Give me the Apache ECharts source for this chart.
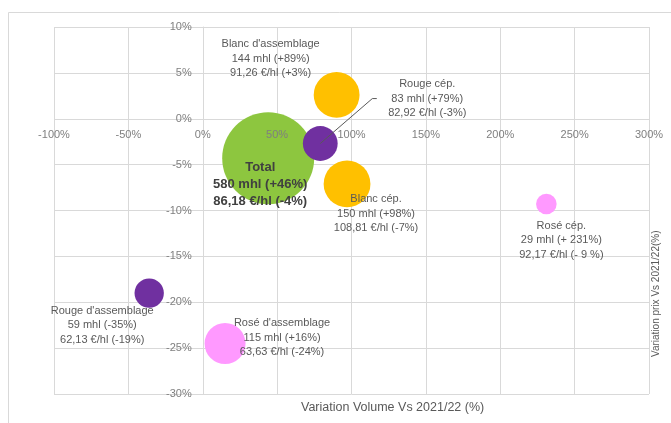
<!DOCTYPE html>
<html>
<head>
<meta charset="utf-8">
<script src="https://cdn.jsdelivr.net/npm/echarts@6/dist/echarts.min.js"></script>
<style>
    html, body { margin: 0; padding: 0; background: #fff; }
    #main { width: 671px; height: 423px; }
</style>
</head>
<body>
<div id="main"></div>
<script>
    // segments
    const names = ['Total', "Blanc d'assemblage", 'Rouge cép.', 'Blanc cép.', 'Rosé cép.', "Rouge d'assemblage", "Rosé d'assemblage"]
    const volumeChange = [44, 90, 79, 97, 231, -36, 15]      // x, %
    const priceChange = [-4.3, 2.6, -2.7, -7.1, -9.3, -19, -24.5]  // y, %
    const volumes = [580, 144, 83, 150, 29, 59, 115]          // mhl, bubble size
    const volumeLabels = ['580 mhl (+46%)', '144 mhl (+89%)', '83 mhl (+79%)', '150 mhl (+98%)', '29 mhl (+ 231%)', '59 mhl (-35%)', '115 mhl (+16%)']
    const priceLabels = ['86,18 €/hl (-4%)', '91,26 €/hl (+3%)', '82,92 €/hl (-3%)', '108,81 €/hl (-7%)', '92,17 €/hl (- 9 %)', '62,13 €/hl (-19%)', '63,63 €/hl (-24%)']
    // leader line for Rouge cép.
    const leaderLine = [[79, -2.7], [114, 2.2], [117, 2.2]]

    const xMin = -100, xMax = 300, yMin = -30, yMax = 10

    const colors = ['#8DC63F', '#FFC000', '#7030A0', '#FFC000', '#FF99FF', '#7030A0', '#FF99FF']
    const labelOffsets = [[-8, 26], [-66, -36], [107, -45], [29, 30], [15, 36], [-47, 32], [57, -6]]

    const font = "'Liberation Sans', Arial, sans-serif"
    const gridColor = '#d9d9d9'
    const tickColor = '#7f7f7f'
    const grid = { left: 54, right: 22, top: 27, bottom: 29 }
    const plotW = 671 - grid.left - grid.right
    const plotH = 423 - grid.top - grid.bottom
    // axes cross at 0 / 0
    const yAxisOffset = -plotW * (0 - xMin) / (xMax - xMin)
    const xAxisOffset = -plotH * (0 - yMin) / (yMax - yMin)

    let chart = echarts.init(document.getElementById('main'))

    let bubbles = names.map((n, i) => {
        let isTotal = i === 0
        return {
            name: n,
            value: [volumeChange[i], priceChange[i], volumes[i]],
            itemStyle: { color: colors[i], opacity: 1 },
            label: {
                show: true,
                position: 'inside',
                offset: labelOffsets[i],
                formatter: n + '\n' + volumeLabels[i] + '\n' + priceLabels[i],
                fontFamily: font,
                fontSize: isTotal ? 13 : 11,
                fontWeight: isTotal ? 'bold' : 'normal',
                lineHeight: isTotal ? 17 : 14.5,
                color: isTotal ? '#404040' : '#595959',
                align: 'center'
            }
        }
    })

    chart.setOption({
        backgroundColor: '#fff',
        animation: false,
        graphic: [{
            type: 'polyline',
            shape: { points: [[8.5, 423], [8.5, 12.5], [671, 12.5]] },
            style: { stroke: '#d9d9d9', fill: null, lineWidth: 1 }
        }, {
            type: 'text',
            left: 301, top: 401,
            style: { text: 'Variation Volume Vs 2021/22 (%)', fontFamily: font, fontSize: 12.5, fill: '#595959' }
        }, {
            type: 'text',
            x: 651, y: 357, rotation: Math.PI / 2,
            style: { text: 'Variation prix Vs 2021/22(%)', fontFamily: font, fontSize: 10, fill: '#595959' }
        }],
        grid: grid,
        xAxis: [{
            type: 'value',
            min: xMin, max: xMax, interval: 50,
            axisLine: { show: false, onZero: false },
            axisTick: { show: false },
            axisLabel: { show: false },
            splitLine: { lineStyle: { color: gridColor } }
        }, {
            // labels at y = 0, drawn above the bubbles
            type: 'value',
            position: 'bottom',
            offset: xAxisOffset,
            min: xMin, max: xMax, interval: 50,
            z: 10,
            axisLine: { show: false, onZero: false },
            axisTick: { show: false },
            axisLabel: {
                margin: 11,
                formatter: v => v + '%',
                fontFamily: font, fontSize: 11, color: tickColor
            },
            splitLine: { show: false }
        }],
        yAxis: {
            type: 'value',
            position: 'left',
            offset: yAxisOffset,
            min: yMin, max: yMax, interval: 5,
            axisLine: { show: true, onZero: false, lineStyle: { color: gridColor } },
            axisTick: { show: false },
            axisLabel: {
                margin: 11,
                formatter: v => v + '%',
                fontFamily: font, fontSize: 11, color: tickColor
            },
            splitLine: { lineStyle: { color: gridColor } }
        },
        series: [{
            type: 'scatter',
            data: bubbles,
            symbolSize: d => 3.82 * Math.sqrt(d[2]),
            z: 3
        }, {
            type: 'line',
            data: leaderLine,
            symbol: 'none',
            lineStyle: { color: '#595959', width: 1 },
            z: 4
        }]
    })
</script>
</body>
</html>
